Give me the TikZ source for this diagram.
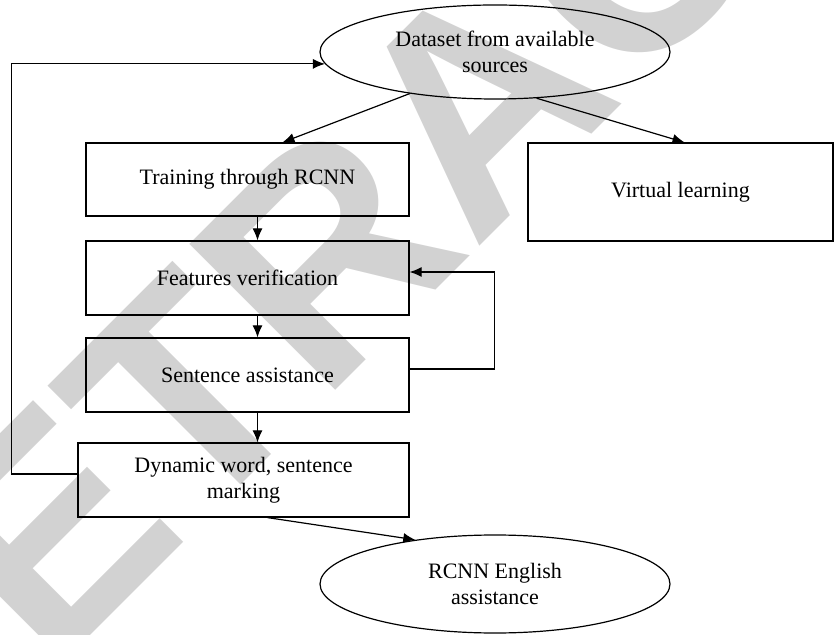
\documentclass[tikz,border=0pt]{standalone}
\usepackage{fontspec}
\setmainfont{Liberation Serif}
\newfontfamily\wmfont{Liberation Sans}
\usepackage{tikz}
\usetikzlibrary{positioning,shapes.geometric,arrows.meta}

\begin{document}
\begin{tikzpicture}[x=0.5pt,y=-0.5pt,
    box/.style={draw, line width=0.6pt, rectangle, inner sep=2pt, align=center,
      font=\fontsize{11}{13}\selectfont},
    oval/.style={draw, line width=0.6pt, ellipse, inner sep=0pt, align=center,
      minimum width=175pt, font=\fontsize{11}{13}\selectfont},
    arr/.style={-{Latex[length=6pt,width=5pt]}, line width=0.6pt}]
  \useasboundingbox (0,0) rectangle (834,635);
  \clip (0,0) rectangle (834,635);

  % watermark
  \node[rotate=45, text=gray!35, font=\wmfont\bfseries\fontsize{150}{150}\selectfont]
    (mark) at (478,102) {RETRACTED};

  % sources and outcome
  \node[oval, minimum height=47pt] (data) at (495,52) {Dataset from available\\sources};
  \node[oval, minimum height=49pt] (rcnn) at (495,584) {RCNN English\\assistance};

  % main column
  \node[box, minimum width=161.5pt, minimum height=36.5pt] (train) at (247.5,179.5) {Training through RCNN};
  \node[box, minimum width=161.5pt, minimum height=37pt] (feat) at (247.5,278) {Features verification};
  \node[box, minimum width=161.5pt, minimum height=37pt] (sent) at (247.5,375) {Sentence assistance};
  \node[box, minimum width=165.5pt, minimum height=37pt] (dyn) at (243.5,480) {Dynamic word, sentence\\marking};

  % side branch
  \node[box, minimum width=152.5pt, minimum height=49pt] (virt) at (680.5,192) {Virtual learning};

  % arrows
  \draw[arr] (data.206) -- ([xshift=17.5pt]train.north);
  \draw[arr] (data.312) -- ([xshift=2pt]virt.north);
  \draw[arr] ([xshift=5pt]train.south) -- ([xshift=5pt]feat.north);
  \draw[arr] ([xshift=5pt]feat.south) -- ([xshift=5pt]sent.north);
  \draw[arr] ([xshift=5pt]sent.south) -- ([xshift=5pt]sent.south |- dyn.north);
  \draw[arr] ([yshift=3pt]sent.east) -- ++(85,0) |- ([yshift=3pt]feat.east);
  \draw[arr] ([yshift=3pt]dyn.west) -- ++(-66,0) |- (data.184);
  \draw[arr] ([xshift=12pt]dyn.south) -- (rcnn.151);
\end{tikzpicture}
\end{document}
